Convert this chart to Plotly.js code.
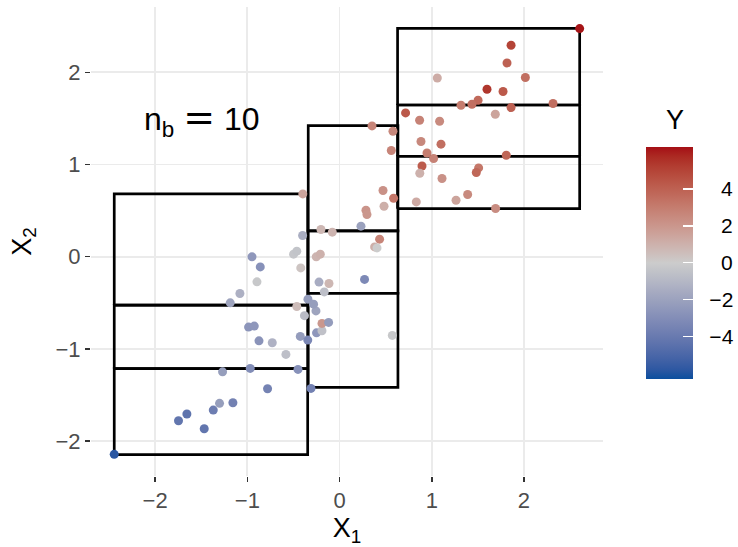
<!DOCTYPE html>
<html>
<head>
<meta charset="utf-8">
<script src="https://cdn.plot.ly/plotly-3.0.1.min.js"></script>
<style>html,body{margin:0;padding:0;background:#fff;}</style>
</head>
<body>
<div id="chart" style="width:738px;height:547px;"></div>
<script>
// ---- data ----
const x1 = [-2.444,-1.747,-1.656,-1.468,-1.370,-1.302,-1.157,-1.269,-0.969,-0.781,
  -0.451,-0.310,-0.987,-0.925,-0.874,-0.730,-0.582,-0.426,-0.345,-0.250,
  -0.191,-0.191,-0.119,-0.381,-0.256,-0.343,-0.282,-0.464,-1.186,-1.081,
  -0.896,-0.950,-0.860,-0.499,-0.464,-0.421,-0.401,-0.399,-0.253,-0.209,
  -0.223,-0.115,-0.166,-0.202,-0.079,0.271,0.232,0.380,0.406,0.434,
  0.572,0.286,0.297,0.471,0.586,0.482,0.352,0.579,0.561,
  2.604,1.860,1.816,1.060,2.015,1.599,1.773,1.502,1.436,1.317,
  2.315,1.860,0.716,1.689,0.868,1.085,0.883,1.100,0.948,1.020,
  1.808,0.894,0.870,1.508,1.483,1.111,1.389,1.263,0.832,1.692];
const x2 = [-2.144,-1.780,-1.707,-1.867,-1.664,-1.591,-1.585,-1.249,-1.212,-1.433,
  -1.223,-1.429,-0.764,-0.753,-0.913,-0.934,-1.060,-0.865,-0.905,-0.826,
  -0.804,-0.724,-0.713,-0.640,-0.588,-0.461,-0.515,-0.540,-0.501,-0.399,
  -0.273,-0.002,-0.111,0.027,0.060,-0.122,0.230,0.681,-0.002,0.027,
  -0.276,-0.291,-0.382,0.295,0.266,-0.247,0.331,0.106,0.095,0.190,
  -0.854,0.504,0.457,0.718,0.634,0.547,1.418,1.360,1.151,
  2.474,2.293,2.101,1.938,1.943,1.816,1.791,1.697,1.653,1.642,
  1.661,1.617,1.559,1.545,1.480,1.469,1.249,1.220,1.125,1.065,
  1.100,0.984,0.905,0.963,0.913,0.848,0.674,0.612,0.594,0.522];
const yVal = [-5.8,-4.2,-4.3,-4.2,-3.8,-2.2,-3.6,-2.2,-3.0,-3.5,
  -2.8,-3.6,-2.6,-2.5,-2.7,-1.2,-0.6,-2.3,-3.3,-2.5,
  -0.5,2.0,-2.3,-0.8,-1.9,-2.3,-2.2,0.6,-1.9,-1.3,
  -0.2,-2.5,-2.8,-0.3,-0.4,0.3,-1.4,1.5,0.9,1.0,
  -1.5,0.8,-0.6,0.8,0.9,-3.2,-2.0,1.1,0.0,2.7,
  -0.2,2.1,2.0,2.2,3.2,1.1,2.7,2.6,2.7,
  6.2,5.0,4.0,1.2,3.5,5.4,4.3,3.7,3.5,3.0,
  3.5,4.0,4.3,1.5,2.8,2.5,2.6,3.5,3.0,2.8,
  3.8,4.2,1.0,3.2,3.8,2.2,2.5,1.5,1.3,2.4];

// bin boxes (left, right, bottom, top)
const boxX0 = [-2.444,-2.444,-2.444,-0.340,-0.340,-0.340,0.629,0.629,0.629];
const boxX1 = [-0.346,-0.346,-0.346,0.633,0.633,0.633,2.604,2.604,2.604];
const boxY0 = [-2.148,-1.215,-0.525,-1.417,-0.397,0.279,0.521,1.089,1.645];
const boxY1 = [-1.215,-0.525,0.680,-0.397,0.279,1.421,1.089,1.645,2.477];

const axisTickVals = [-2,-1,0,1,2];
const axisTickText = ['\u22122','\u22121','0','1','2'];
const cbTickVals = [-4,-2,0,2,4];
const cbTickText = ['\u22124','\u22122','0','2','4'];
const yLimits = [-6.27, 6.29];
const annPos = [-1.5, 1.5];

// ---- colour scale (Lab interpolation like ggplot's gradient2) ----
function hex2rgb(h){h=h.replace('#','');return [0,2,4].map(i=>parseInt(h.substr(i,2),16));}
function srgb2lin(c){c/=255;return c<=0.04045?c/12.92:Math.pow((c+0.055)/1.055,2.4);}
function lin2srgb(c){c=c<=0.0031308?12.92*c:1.055*Math.pow(c,1/2.4)-0.055;return Math.max(0,Math.min(255,Math.round(c*255)));}
function rgb2lab(rgb){const [r,g,b]=rgb.map(srgb2lin);
  let X=(0.4124*r+0.3576*g+0.1805*b)/0.95047,Y=(0.2126*r+0.7152*g+0.0722*b),Z=(0.0193*r+0.1192*g+0.9505*b)/1.08883;
  const f=t=>t>0.008856?Math.cbrt(t):7.787*t+16/116;
  return [116*f(Y)-16,500*(f(X)-f(Y)),200*(f(Y)-f(Z))];}
function lab2hex(lab){const fy=(lab[0]+16)/116,fx=fy+lab[1]/500,fz=fy-lab[2]/200;
  const finv=t=>t*t*t>0.008856?t*t*t:(t-16/116)/7.787;
  const X=finv(fx)*0.95047,Y=finv(fy),Z=finv(fz)*1.08883;
  const r=3.2406*X-1.5372*Y-0.4986*Z,g=-0.9689*X+1.8758*Y+0.0415*Z,b=0.0557*X-0.2040*Y+1.0570*Z;
  return '#'+[r,g,b].map(lin2srgb).map(v=>v.toString(16).padStart(2,'0')).join('');}
const lowC=rgb2lab(hex2rgb('#0a4f9e')), midC=rgb2lab(hex2rgb('#cccccc')), highC=rgb2lab(hex2rgb('#a50f15'));
const midPos=(0-yLimits[0])/(yLimits[1]-yLimits[0]);
const cscale=[];
const N=12;
for(let i=0;i<=N;i++){const t=i/N;cscale.push([midPos*t,lab2hex(lowC.map((v,k)=>v+(midC[k]-v)*t))]);}
for(let i=1;i<=N;i++){const t=i/N;cscale.push([midPos+(1-midPos)*t,lab2hex(midC.map((v,k)=>v+(highC[k]-v)*t))]);}

// ---- box outlines ----
const bx=[],by=[];
for(let i=0;i<boxX0.length;i++){
  bx.push(boxX0[i],boxX1[i],boxX1[i],boxX0[i],boxX0[i],null);
  by.push(boxY0[i],boxY0[i],boxY1[i],boxY1[i],boxY0[i],null);
}

const FONT='"Liberation Sans", Arial, Helvetica, sans-serif';
const FS='\u2007';

const traces=[
  {type:'scatter',mode:'lines',x:bx,y:by,line:{color:'#000000',width:2.7},hoverinfo:'skip',showlegend:false},
  {type:'scatter',mode:'markers',x:x1,y:x2,showlegend:false,
   marker:{size:9,color:yVal,colorscale:cscale,cmin:yLimits[0],cmax:yLimits[1],line:{width:0},
     colorbar:{x:1.084,xanchor:'left',xpad:0,y:0.4548,yanchor:'middle',ypad:0,
       thickness:47,thicknessmode:'pixels',len:232,lenmode:'pixels',outlinewidth:0,
       tickvals:cbTickVals,ticktext:cbTickText.map(s=>FS+(s.startsWith('\u2212')?s:FS+s)),
       ticks:'inside',ticklen:10,tickwidth:1.2,tickcolor:'#ffffff',
       tickfont:{family:FONT,size:21,color:'#000000'}}}}
];

const layout={
  width:738,height:547,
  margin:{l:91,r:135,t:7,b:71,autoexpand:false},
  paper_bgcolor:'#ffffff',plot_bgcolor:'#ffffff',
  font:{family:FONT},
  xaxis:{range:[-2.696,2.857],tickvals:axisTickVals,ticktext:axisTickText,
    ticks:'outside',ticklen:5,tickwidth:1.5,tickcolor:'#333333',
    showgrid:true,gridcolor:'#ebebeb',gridwidth:1.8,zeroline:false,showline:false,
    tickfont:{family:FONT,size:22,color:'#4d4d4d'},
    title:{text:'X<sub>1</sub>',font:{family:FONT,size:27,color:'#000000'},standoff:9}},
  yaxis:{range:[-2.379,2.708],tickvals:axisTickVals,ticktext:axisTickText,
    ticks:'outside',ticklen:5,tickwidth:1.5,tickcolor:'#333333',
    showgrid:true,gridcolor:'#ebebeb',gridwidth:1.8,zeroline:false,showline:false,
    tickfont:{family:FONT,size:22,color:'#4d4d4d'},
    title:{text:'X<sub>2</sub>',font:{family:FONT,size:27,color:'#000000'},standoff:16}},
  annotations:[
    {x:annPos[0],y:annPos[1],xref:'x',yref:'y',
     text:'n<sub>b</sub> <span style="font-family:DejaVu Sans;font-size:38px">=</span> 10',showarrow:false,
     font:{family:FONT,size:32,color:'#000000'}},
    {x:(674.5-91)/512,y:(476-120)/469,xref:'paper',yref:'paper',text:'Y',showarrow:false,
     xanchor:'center',yanchor:'middle',font:{family:FONT,size:27,color:'#000000'}}
  ]
};

Plotly.newPlot('chart',traces,layout,{displayModeBar:false,staticPlot:true});
</script>
</body>
</html>
